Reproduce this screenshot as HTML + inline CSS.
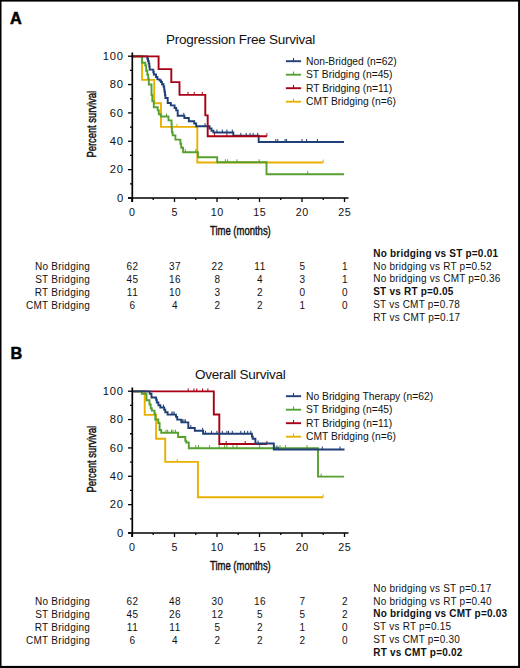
<!DOCTYPE html>
<html><head><meta charset="utf-8"><style>
html,body{margin:0;padding:0;background:#fff;}
svg{display:block;}
text{font-family:"Liberation Sans", sans-serif;fill:#111;}
.pl{font-size:16.3px;font-weight:700;fill:#000;stroke:#000;stroke-width:0.5px;}
.ti{font-size:13.5px;letter-spacing:-0.25px;}
.ylab{font-size:11.2px;letter-spacing:0.9px;}
.xlab{font-size:10.7px;letter-spacing:0.45px;}
.tnum{font-size:10px;letter-spacing:0.6px;}
.cond{font-size:13px;stroke:#111;stroke-width:0.45px;}
.lg{font-size:10.3px;}
.tb{font-size:10px;letter-spacing:0.27px;}
.st{font-size:10px;letter-spacing:0.22px;}
.stb{font-size:10px;font-weight:700;letter-spacing:0.22px;}
</style></head>
<body><svg width="520" height="668" viewBox="0 0 520 668">
<rect x="0" y="0" width="520" height="668" fill="#fff"/>
<path d="M132.00,56.40 L142.10,56.40 L142.10,79.90 L154.20,79.90 L154.20,103.30 L161.00,103.30 L161.00,126.90 L197.30,126.90 L197.30,162.50 L323.20,162.50" fill="none" stroke="#e9b000" stroke-width="1.9" stroke-linejoin="miter" stroke-linecap="butt"/>
<line x1="176.90" y1="123.90" x2="176.90" y2="126.90" stroke="#e9b000" stroke-width="1.0"/>
<line x1="323.20" y1="159.50" x2="323.20" y2="162.50" stroke="#e9b000" stroke-width="1.0"/>
<path d="M132.00,56.40 L142.10,56.40 L142.10,62.70 L145.30,62.70 L145.30,65.50 L146.20,65.50 L146.20,70.70 L147.30,70.70 L147.30,74.80 L148.20,74.80 L148.20,78.80 L148.80,78.80 L148.80,84.50 L151.50,84.50 L151.50,95.00 L152.30,95.00 L152.30,101.20 L153.80,101.20 L153.80,107.30 L157.70,107.30 L157.70,110.40 L158.80,110.40 L158.80,114.20 L160.80,114.20 L160.80,116.50 L168.50,116.50 L168.50,120.40 L171.50,120.40 L171.50,124.00 L171.70,124.00 L171.70,128.00 L171.90,128.00 L171.90,132.30 L172.70,132.30 L172.70,135.40 L175.40,135.40 L175.40,139.60 L180.40,139.60 L180.40,143.80 L181.20,143.80 L181.20,147.70 L183.10,147.70 L183.10,152.30 L197.90,152.30 L197.90,157.30 L217.20,157.30 L217.20,162.30 L266.50,162.30 L266.50,174.30 L344.00,174.30" fill="none" stroke="#55a030" stroke-width="1.9" stroke-linejoin="miter" stroke-linecap="butt"/>
<line x1="166.50" y1="113.50" x2="166.50" y2="116.50" stroke="#55a030" stroke-width="1.0"/>
<line x1="185.40" y1="149.30" x2="185.40" y2="152.30" stroke="#55a030" stroke-width="1.0"/>
<line x1="195.80" y1="149.30" x2="195.80" y2="152.30" stroke="#55a030" stroke-width="1.0"/>
<line x1="225.40" y1="159.30" x2="225.40" y2="162.30" stroke="#55a030" stroke-width="1.0"/>
<line x1="227.70" y1="159.30" x2="227.70" y2="162.30" stroke="#55a030" stroke-width="1.0"/>
<line x1="236.90" y1="159.30" x2="236.90" y2="162.30" stroke="#55a030" stroke-width="1.0"/>
<line x1="259.20" y1="159.30" x2="259.20" y2="162.30" stroke="#55a030" stroke-width="1.0"/>
<line x1="307.70" y1="171.30" x2="307.70" y2="174.30" stroke="#55a030" stroke-width="1.0"/>
<path d="M132.00,56.40 L147.30,56.40 L147.30,58.50 L148.00,58.50 L148.00,61.00 L148.70,61.00 L148.70,63.50 L149.30,63.50 L149.30,66.50 L149.70,66.50 L149.70,69.60 L153.30,69.60 L153.30,72.00 L153.80,72.00 L153.80,74.50 L156.00,74.50 L156.00,77.00 L157.40,77.00 L157.40,79.40 L159.70,79.40 L159.70,80.50 L161.00,80.50 L161.00,82.00 L162.00,82.00 L162.00,84.30 L163.50,84.30 L163.50,86.60 L164.20,86.60 L164.20,89.60 L164.60,89.60 L164.60,92.00 L165.00,92.00 L165.00,95.00 L165.40,95.00 L165.40,98.00 L167.70,98.00 L167.70,103.00 L170.80,103.00 L170.80,105.40 L174.60,105.40 L174.60,108.00 L176.20,108.00 L176.20,110.40 L177.70,110.40 L177.70,115.80 L184.40,115.80 L184.40,118.00 L188.80,118.00 L188.80,121.20 L194.20,121.20 L194.20,123.50 L196.20,123.50 L196.20,126.20 L209.50,126.20 L209.50,128.50 L211.50,128.50 L211.50,130.80 L213.50,130.80 L213.50,132.50 L233.30,132.50 L233.30,135.80 L258.70,135.80 L258.70,142.00 L344.00,142.00" fill="none" stroke="#1f3f76" stroke-width="1.9" stroke-linejoin="miter" stroke-linecap="butt"/>
<line x1="183.80" y1="112.80" x2="183.80" y2="115.80" stroke="#1f3f76" stroke-width="1.0"/>
<line x1="205.00" y1="123.20" x2="205.00" y2="126.20" stroke="#1f3f76" stroke-width="1.0"/>
<line x1="216.90" y1="129.50" x2="216.90" y2="132.50" stroke="#1f3f76" stroke-width="1.0"/>
<line x1="222.30" y1="129.50" x2="222.30" y2="132.50" stroke="#1f3f76" stroke-width="1.0"/>
<line x1="226.90" y1="129.50" x2="226.90" y2="132.50" stroke="#1f3f76" stroke-width="1.0"/>
<line x1="232.30" y1="129.50" x2="232.30" y2="132.50" stroke="#1f3f76" stroke-width="1.0"/>
<line x1="240.80" y1="132.80" x2="240.80" y2="135.80" stroke="#1f3f76" stroke-width="1.0"/>
<line x1="246.20" y1="132.80" x2="246.20" y2="135.80" stroke="#1f3f76" stroke-width="1.0"/>
<line x1="250.00" y1="132.80" x2="250.00" y2="135.80" stroke="#1f3f76" stroke-width="1.0"/>
<line x1="253.10" y1="132.80" x2="253.10" y2="135.80" stroke="#1f3f76" stroke-width="1.0"/>
<line x1="257.70" y1="132.80" x2="257.70" y2="135.80" stroke="#1f3f76" stroke-width="1.0"/>
<line x1="275.80" y1="139.00" x2="275.80" y2="142.00" stroke="#1f3f76" stroke-width="1.0"/>
<line x1="277.80" y1="139.00" x2="277.80" y2="142.00" stroke="#1f3f76" stroke-width="1.0"/>
<line x1="285.10" y1="139.00" x2="285.10" y2="142.00" stroke="#1f3f76" stroke-width="1.0"/>
<line x1="286.60" y1="139.00" x2="286.60" y2="142.00" stroke="#1f3f76" stroke-width="1.0"/>
<line x1="302.00" y1="139.00" x2="302.00" y2="142.00" stroke="#1f3f76" stroke-width="1.0"/>
<line x1="306.60" y1="139.00" x2="306.60" y2="142.00" stroke="#1f3f76" stroke-width="1.0"/>
<line x1="317.40" y1="139.00" x2="317.40" y2="142.00" stroke="#1f3f76" stroke-width="1.0"/>
<path d="M132.00,56.40 L158.60,56.40 L158.60,69.10 L171.30,69.10 L171.30,82.10 L179.50,82.10 L179.50,94.90 L205.30,94.90 L205.30,115.40 L207.70,115.40 L207.70,136.20 L266.90,136.20" fill="none" stroke="#a80016" stroke-width="1.9" stroke-linejoin="miter" stroke-linecap="butt"/>
<line x1="188.00" y1="91.90" x2="188.00" y2="94.90" stroke="#a80016" stroke-width="1.0"/>
<line x1="194.20" y1="91.90" x2="194.20" y2="94.90" stroke="#a80016" stroke-width="1.0"/>
<line x1="202.30" y1="91.90" x2="202.30" y2="94.90" stroke="#a80016" stroke-width="1.0"/>
<line x1="214.60" y1="133.20" x2="214.60" y2="136.20" stroke="#a80016" stroke-width="1.0"/>
<line x1="226.90" y1="133.20" x2="226.90" y2="136.20" stroke="#a80016" stroke-width="1.0"/>
<line x1="266.90" y1="133.20" x2="266.90" y2="136.20" stroke="#a80016" stroke-width="1.0"/>
<path d="M132.00,391.40 L144.70,391.40 L144.70,414.90 L156.10,414.90 L156.10,438.70 L165.20,438.70 L165.20,461.90 L197.90,461.90 L197.90,497.30 L323.20,497.30" fill="none" stroke="#e9b000" stroke-width="1.9" stroke-linejoin="miter" stroke-linecap="butt"/>
<line x1="177.20" y1="458.90" x2="177.20" y2="461.90" stroke="#e9b000" stroke-width="1.0"/>
<line x1="323.20" y1="494.30" x2="323.20" y2="497.30" stroke="#e9b000" stroke-width="1.0"/>
<path d="M132.00,391.40 L213.80,391.40 L213.80,414.50 L219.30,414.50 L219.30,444.00 L266.90,444.00" fill="none" stroke="#a80016" stroke-width="1.9" stroke-linejoin="miter" stroke-linecap="butt"/>
<line x1="188.20" y1="388.40" x2="188.20" y2="391.40" stroke="#a80016" stroke-width="1.0"/>
<line x1="193.90" y1="388.40" x2="193.90" y2="391.40" stroke="#a80016" stroke-width="1.0"/>
<line x1="196.80" y1="388.40" x2="196.80" y2="391.40" stroke="#a80016" stroke-width="1.0"/>
<line x1="202.60" y1="388.40" x2="202.60" y2="391.40" stroke="#a80016" stroke-width="1.0"/>
<line x1="207.90" y1="388.40" x2="207.90" y2="391.40" stroke="#a80016" stroke-width="1.0"/>
<line x1="226.20" y1="441.00" x2="226.20" y2="444.00" stroke="#a80016" stroke-width="1.0"/>
<line x1="245.20" y1="441.00" x2="245.20" y2="444.00" stroke="#a80016" stroke-width="1.0"/>
<line x1="266.90" y1="441.00" x2="266.90" y2="444.00" stroke="#a80016" stroke-width="1.0"/>
<path d="M132.00,391.40 L141.80,391.40 L141.80,393.70 L146.50,393.70 L146.50,400.20 L149.50,400.20 L149.50,404.50 L150.70,404.50 L150.70,408.30 L151.80,408.30 L151.80,410.60 L154.50,410.60 L154.50,413.70 L155.30,413.70 L155.30,419.50 L158.30,419.50 L158.30,423.00 L159.60,423.00 L159.60,430.00 L161.20,430.00 L161.20,432.70 L178.10,432.70 L178.10,437.00 L185.30,437.00 L185.30,440.80 L186.20,440.80 L186.20,442.50 L188.80,442.50 L188.80,448.20 L318.00,448.20 L318.00,476.60 L344.00,476.60" fill="none" stroke="#55a030" stroke-width="1.9" stroke-linejoin="miter" stroke-linecap="butt"/>
<line x1="166.00" y1="429.70" x2="166.00" y2="432.70" stroke="#55a030" stroke-width="1.0"/>
<line x1="167.70" y1="429.70" x2="167.70" y2="432.70" stroke="#55a030" stroke-width="1.0"/>
<line x1="171.50" y1="429.70" x2="171.50" y2="432.70" stroke="#55a030" stroke-width="1.0"/>
<line x1="173.00" y1="429.70" x2="173.00" y2="432.70" stroke="#55a030" stroke-width="1.0"/>
<line x1="175.40" y1="429.70" x2="175.40" y2="432.70" stroke="#55a030" stroke-width="1.0"/>
<line x1="195.80" y1="445.20" x2="195.80" y2="448.20" stroke="#55a030" stroke-width="1.0"/>
<line x1="198.50" y1="445.20" x2="198.50" y2="448.20" stroke="#55a030" stroke-width="1.0"/>
<line x1="209.60" y1="445.20" x2="209.60" y2="448.20" stroke="#55a030" stroke-width="1.0"/>
<line x1="219.20" y1="445.20" x2="219.20" y2="448.20" stroke="#55a030" stroke-width="1.0"/>
<line x1="224.60" y1="445.20" x2="224.60" y2="448.20" stroke="#55a030" stroke-width="1.0"/>
<line x1="226.90" y1="445.20" x2="226.90" y2="448.20" stroke="#55a030" stroke-width="1.0"/>
<line x1="233.00" y1="445.20" x2="233.00" y2="448.20" stroke="#55a030" stroke-width="1.0"/>
<line x1="236.90" y1="445.20" x2="236.90" y2="448.20" stroke="#55a030" stroke-width="1.0"/>
<line x1="259.60" y1="445.20" x2="259.60" y2="448.20" stroke="#55a030" stroke-width="1.0"/>
<line x1="274.60" y1="445.20" x2="274.60" y2="448.20" stroke="#55a030" stroke-width="1.0"/>
<line x1="277.00" y1="445.20" x2="277.00" y2="448.20" stroke="#55a030" stroke-width="1.0"/>
<line x1="280.00" y1="445.20" x2="280.00" y2="448.20" stroke="#55a030" stroke-width="1.0"/>
<line x1="285.40" y1="445.20" x2="285.40" y2="448.20" stroke="#55a030" stroke-width="1.0"/>
<line x1="307.00" y1="445.20" x2="307.00" y2="448.20" stroke="#55a030" stroke-width="1.0"/>
<line x1="321.20" y1="473.60" x2="321.20" y2="476.60" stroke="#55a030" stroke-width="1.0"/>
<path d="M132.00,391.40 L149.80,391.40 L149.80,393.70 L151.50,393.70 L151.50,397.50 L156.10,397.50 L156.10,399.80 L156.80,399.80 L156.80,402.50 L158.40,402.50 L158.40,405.20 L160.30,405.20 L160.30,407.50 L164.20,407.50 L164.20,409.80 L165.30,409.80 L165.30,412.20 L167.60,412.20 L167.60,414.60 L176.00,414.60 L176.00,416.90 L177.20,416.90 L177.20,419.60 L181.30,419.60 L181.30,422.40 L188.30,422.40 L188.30,428.00 L194.80,428.00 L194.80,430.80 L203.10,430.80 L203.10,433.80 L251.90,433.80 L251.90,436.50 L252.70,436.50 L252.70,438.70 L255.40,438.70 L255.40,443.50 L273.80,443.50 L273.80,449.50 L344.50,449.50" fill="none" stroke="#1f3f76" stroke-width="1.9" stroke-linejoin="miter" stroke-linecap="butt"/>
<line x1="163.40" y1="404.50" x2="163.40" y2="407.50" stroke="#1f3f76" stroke-width="1.0"/>
<line x1="171.80" y1="411.60" x2="171.80" y2="414.60" stroke="#1f3f76" stroke-width="1.0"/>
<line x1="173.00" y1="411.60" x2="173.00" y2="414.60" stroke="#1f3f76" stroke-width="1.0"/>
<line x1="174.20" y1="411.60" x2="174.20" y2="414.60" stroke="#1f3f76" stroke-width="1.0"/>
<line x1="182.70" y1="419.40" x2="182.70" y2="422.40" stroke="#1f3f76" stroke-width="1.0"/>
<line x1="184.00" y1="419.40" x2="184.00" y2="422.40" stroke="#1f3f76" stroke-width="1.0"/>
<line x1="185.40" y1="419.40" x2="185.40" y2="422.40" stroke="#1f3f76" stroke-width="1.0"/>
<line x1="190.80" y1="425.00" x2="190.80" y2="428.00" stroke="#1f3f76" stroke-width="1.0"/>
<line x1="202.70" y1="427.80" x2="202.70" y2="430.80" stroke="#1f3f76" stroke-width="1.0"/>
<line x1="205.40" y1="430.80" x2="205.40" y2="433.80" stroke="#1f3f76" stroke-width="1.0"/>
<line x1="211.50" y1="430.80" x2="211.50" y2="433.80" stroke="#1f3f76" stroke-width="1.0"/>
<line x1="216.90" y1="430.80" x2="216.90" y2="433.80" stroke="#1f3f76" stroke-width="1.0"/>
<line x1="222.30" y1="430.80" x2="222.30" y2="433.80" stroke="#1f3f76" stroke-width="1.0"/>
<line x1="226.90" y1="430.80" x2="226.90" y2="433.80" stroke="#1f3f76" stroke-width="1.0"/>
<line x1="228.50" y1="430.80" x2="228.50" y2="433.80" stroke="#1f3f76" stroke-width="1.0"/>
<line x1="232.30" y1="430.80" x2="232.30" y2="433.80" stroke="#1f3f76" stroke-width="1.0"/>
<line x1="240.80" y1="430.80" x2="240.80" y2="433.80" stroke="#1f3f76" stroke-width="1.0"/>
<line x1="244.60" y1="430.80" x2="244.60" y2="433.80" stroke="#1f3f76" stroke-width="1.0"/>
<line x1="247.70" y1="430.80" x2="247.70" y2="433.80" stroke="#1f3f76" stroke-width="1.0"/>
<line x1="250.80" y1="430.80" x2="250.80" y2="433.80" stroke="#1f3f76" stroke-width="1.0"/>
<line x1="258.10" y1="440.50" x2="258.10" y2="443.50" stroke="#1f3f76" stroke-width="1.0"/>
<line x1="276.20" y1="446.50" x2="276.20" y2="449.50" stroke="#1f3f76" stroke-width="1.0"/>
<line x1="278.10" y1="446.50" x2="278.10" y2="449.50" stroke="#1f3f76" stroke-width="1.0"/>
<line x1="322.30" y1="446.50" x2="322.30" y2="449.50" stroke="#1f3f76" stroke-width="1.0"/>
<line x1="340.00" y1="446.50" x2="340.00" y2="449.50" stroke="#1f3f76" stroke-width="1.0"/>
<text x="10" y="24" class="pl">A</text>
<text x="10.5" y="359.0" class="pl">B</text>
<text x="240.6" y="44.1" text-anchor="middle" class="ti">Progression Free Survival</text>
<text x="240.2" y="379.1" text-anchor="middle" class="ti">Overall Survival</text>
<line x1="132.3" y1="52.5" x2="132.3" y2="202" stroke="#000" stroke-width="1.7"/>
<line x1="128" y1="198.0" x2="348.5" y2="198.0" stroke="#000" stroke-width="1.7"/>
<line x1="128" y1="198.00" x2="132.0" y2="198.00" stroke="#000" stroke-width="1.3"/>
<line x1="130" y1="183.82" x2="132.0" y2="183.82" stroke="#000" stroke-width="1.3"/>
<line x1="128" y1="169.64" x2="132.0" y2="169.64" stroke="#000" stroke-width="1.3"/>
<line x1="130" y1="155.46" x2="132.0" y2="155.46" stroke="#000" stroke-width="1.3"/>
<line x1="128" y1="141.28" x2="132.0" y2="141.28" stroke="#000" stroke-width="1.3"/>
<line x1="130" y1="127.10" x2="132.0" y2="127.10" stroke="#000" stroke-width="1.3"/>
<line x1="128" y1="112.92" x2="132.0" y2="112.92" stroke="#000" stroke-width="1.3"/>
<line x1="130" y1="98.74" x2="132.0" y2="98.74" stroke="#000" stroke-width="1.3"/>
<line x1="128" y1="84.56" x2="132.0" y2="84.56" stroke="#000" stroke-width="1.3"/>
<line x1="130" y1="70.38" x2="132.0" y2="70.38" stroke="#000" stroke-width="1.3"/>
<line x1="128" y1="56.20" x2="132.0" y2="56.20" stroke="#000" stroke-width="1.3"/>
<line x1="132.00" y1="198.0" x2="132.00" y2="202" stroke="#000" stroke-width="1.3"/>
<line x1="153.25" y1="198.0" x2="153.25" y2="200" stroke="#000" stroke-width="1.3"/>
<line x1="174.50" y1="198.0" x2="174.50" y2="202" stroke="#000" stroke-width="1.3"/>
<line x1="195.75" y1="198.0" x2="195.75" y2="200" stroke="#000" stroke-width="1.3"/>
<line x1="217.00" y1="198.0" x2="217.00" y2="202" stroke="#000" stroke-width="1.3"/>
<line x1="238.25" y1="198.0" x2="238.25" y2="200" stroke="#000" stroke-width="1.3"/>
<line x1="259.50" y1="198.0" x2="259.50" y2="202" stroke="#000" stroke-width="1.3"/>
<line x1="280.75" y1="198.0" x2="280.75" y2="200" stroke="#000" stroke-width="1.3"/>
<line x1="302.00" y1="198.0" x2="302.00" y2="202" stroke="#000" stroke-width="1.3"/>
<line x1="323.25" y1="198.0" x2="323.25" y2="200" stroke="#000" stroke-width="1.3"/>
<line x1="344.50" y1="198.0" x2="344.50" y2="202" stroke="#000" stroke-width="1.3"/>
<text x="124.0" y="201.60" text-anchor="end" class="ylab">0</text>
<text x="124.0" y="173.24" text-anchor="end" class="ylab">20</text>
<text x="124.0" y="144.88" text-anchor="end" class="ylab">40</text>
<text x="124.0" y="116.52" text-anchor="end" class="ylab">60</text>
<text x="124.0" y="88.16" text-anchor="end" class="ylab">80</text>
<text x="124.0" y="59.80" text-anchor="end" class="ylab">100</text>
<text x="132.25" y="215.80" text-anchor="middle" class="xlab">0</text>
<text x="174.75" y="215.80" text-anchor="middle" class="xlab">5</text>
<text x="217.25" y="215.80" text-anchor="middle" class="xlab">10</text>
<text x="259.75" y="215.80" text-anchor="middle" class="xlab">15</text>
<text x="302.25" y="215.80" text-anchor="middle" class="xlab">20</text>
<text x="344.75" y="215.80" text-anchor="middle" class="xlab">25</text>
<text transform="translate(95.5,157.5) rotate(-90) scale(0.72,1)" class="cond">Percent survival</text>
<text transform="translate(210,235) scale(0.73,1)" class="cond">Time (months)</text>
<line x1="132.3" y1="387.5" x2="132.3" y2="537.0" stroke="#000" stroke-width="1.7"/>
<line x1="128" y1="533.0" x2="348.5" y2="533.0" stroke="#000" stroke-width="1.7"/>
<line x1="128" y1="533.00" x2="132.0" y2="533.00" stroke="#000" stroke-width="1.3"/>
<line x1="130" y1="518.82" x2="132.0" y2="518.82" stroke="#000" stroke-width="1.3"/>
<line x1="128" y1="504.64" x2="132.0" y2="504.64" stroke="#000" stroke-width="1.3"/>
<line x1="130" y1="490.46" x2="132.0" y2="490.46" stroke="#000" stroke-width="1.3"/>
<line x1="128" y1="476.28" x2="132.0" y2="476.28" stroke="#000" stroke-width="1.3"/>
<line x1="130" y1="462.10" x2="132.0" y2="462.10" stroke="#000" stroke-width="1.3"/>
<line x1="128" y1="447.92" x2="132.0" y2="447.92" stroke="#000" stroke-width="1.3"/>
<line x1="130" y1="433.74" x2="132.0" y2="433.74" stroke="#000" stroke-width="1.3"/>
<line x1="128" y1="419.56" x2="132.0" y2="419.56" stroke="#000" stroke-width="1.3"/>
<line x1="130" y1="405.38" x2="132.0" y2="405.38" stroke="#000" stroke-width="1.3"/>
<line x1="128" y1="391.20" x2="132.0" y2="391.20" stroke="#000" stroke-width="1.3"/>
<line x1="132.00" y1="533.0" x2="132.00" y2="537.0" stroke="#000" stroke-width="1.3"/>
<line x1="153.25" y1="533.0" x2="153.25" y2="535.0" stroke="#000" stroke-width="1.3"/>
<line x1="174.50" y1="533.0" x2="174.50" y2="537.0" stroke="#000" stroke-width="1.3"/>
<line x1="195.75" y1="533.0" x2="195.75" y2="535.0" stroke="#000" stroke-width="1.3"/>
<line x1="217.00" y1="533.0" x2="217.00" y2="537.0" stroke="#000" stroke-width="1.3"/>
<line x1="238.25" y1="533.0" x2="238.25" y2="535.0" stroke="#000" stroke-width="1.3"/>
<line x1="259.50" y1="533.0" x2="259.50" y2="537.0" stroke="#000" stroke-width="1.3"/>
<line x1="280.75" y1="533.0" x2="280.75" y2="535.0" stroke="#000" stroke-width="1.3"/>
<line x1="302.00" y1="533.0" x2="302.00" y2="537.0" stroke="#000" stroke-width="1.3"/>
<line x1="323.25" y1="533.0" x2="323.25" y2="535.0" stroke="#000" stroke-width="1.3"/>
<line x1="344.50" y1="533.0" x2="344.50" y2="537.0" stroke="#000" stroke-width="1.3"/>
<text x="124.0" y="536.60" text-anchor="end" class="ylab">0</text>
<text x="124.0" y="508.24" text-anchor="end" class="ylab">20</text>
<text x="124.0" y="479.88" text-anchor="end" class="ylab">40</text>
<text x="124.0" y="451.52" text-anchor="end" class="ylab">60</text>
<text x="124.0" y="423.16" text-anchor="end" class="ylab">80</text>
<text x="124.0" y="394.80" text-anchor="end" class="ylab">100</text>
<text x="132.25" y="550.80" text-anchor="middle" class="xlab">0</text>
<text x="174.75" y="550.80" text-anchor="middle" class="xlab">5</text>
<text x="217.25" y="550.80" text-anchor="middle" class="xlab">10</text>
<text x="259.75" y="550.80" text-anchor="middle" class="xlab">15</text>
<text x="302.25" y="550.80" text-anchor="middle" class="xlab">20</text>
<text x="344.75" y="550.80" text-anchor="middle" class="xlab">25</text>
<text transform="translate(95.5,492.5) rotate(-90) scale(0.72,1)" class="cond">Percent survival</text>
<text transform="translate(210,570.0) scale(0.73,1)" class="cond">Time (months)</text>
<line x1="285.9" y1="61.2" x2="301.1" y2="61.2" stroke="#1f3f76" stroke-width="1.9"/>
<line x1="293.5" y1="58.0" x2="293.5" y2="61.2" stroke="#1f3f76" stroke-width="1.1"/>
<text x="306" y="64.70" class="lg">Non-Bridged (n=62)</text>
<line x1="285.9" y1="74.7" x2="301.1" y2="74.7" stroke="#55a030" stroke-width="1.9"/>
<line x1="293.5" y1="71.5" x2="293.5" y2="74.7" stroke="#55a030" stroke-width="1.1"/>
<text x="306" y="78.20" class="lg">ST Bridging (n=45)</text>
<line x1="285.9" y1="88.2" x2="301.1" y2="88.2" stroke="#a80016" stroke-width="1.9"/>
<line x1="293.5" y1="85.0" x2="293.5" y2="88.2" stroke="#a80016" stroke-width="1.1"/>
<text x="306" y="91.70" class="lg">RT Bridging (n=11)</text>
<line x1="285.9" y1="101.7" x2="301.1" y2="101.7" stroke="#e9b000" stroke-width="1.9"/>
<line x1="293.5" y1="98.5" x2="293.5" y2="101.7" stroke="#e9b000" stroke-width="1.1"/>
<text x="306" y="105.20" class="lg">CMT Bridging (n=6)</text>
<line x1="285.9" y1="396.2" x2="301.1" y2="396.2" stroke="#1f3f76" stroke-width="1.9"/>
<line x1="293.5" y1="393.0" x2="293.5" y2="396.2" stroke="#1f3f76" stroke-width="1.1"/>
<text x="306" y="399.70" class="lg">No Bridging Therapy (n=62)</text>
<line x1="285.9" y1="409.7" x2="301.1" y2="409.7" stroke="#55a030" stroke-width="1.9"/>
<line x1="293.5" y1="406.5" x2="293.5" y2="409.7" stroke="#55a030" stroke-width="1.1"/>
<text x="306" y="413.20" class="lg">ST Bridging (n=45)</text>
<line x1="285.9" y1="423.2" x2="301.1" y2="423.2" stroke="#a80016" stroke-width="1.9"/>
<line x1="293.5" y1="420.0" x2="293.5" y2="423.2" stroke="#a80016" stroke-width="1.1"/>
<text x="306" y="426.70" class="lg">RT Bridging (n=11)</text>
<line x1="285.9" y1="436.7" x2="301.1" y2="436.7" stroke="#e9b000" stroke-width="1.9"/>
<line x1="293.5" y1="433.5" x2="293.5" y2="436.7" stroke="#e9b000" stroke-width="1.1"/>
<text x="306" y="440.20" class="lg">CMT Bridging (n=6)</text>
<text x="90.2" y="270.0" text-anchor="end" class="tb">No Bridging</text>
<text x="132.60" y="270.0" text-anchor="middle" class="tnum">62</text>
<text x="175.10" y="270.0" text-anchor="middle" class="tnum">37</text>
<text x="217.60" y="270.0" text-anchor="middle" class="tnum">22</text>
<text x="260.10" y="270.0" text-anchor="middle" class="tnum">11</text>
<text x="302.60" y="270.0" text-anchor="middle" class="tnum">5</text>
<text x="345.10" y="270.0" text-anchor="middle" class="tnum">1</text>
<text x="90.2" y="282.8" text-anchor="end" class="tb">ST Bridging</text>
<text x="132.60" y="282.8" text-anchor="middle" class="tnum">45</text>
<text x="175.10" y="282.8" text-anchor="middle" class="tnum">16</text>
<text x="217.60" y="282.8" text-anchor="middle" class="tnum">8</text>
<text x="260.10" y="282.8" text-anchor="middle" class="tnum">4</text>
<text x="302.60" y="282.8" text-anchor="middle" class="tnum">3</text>
<text x="345.10" y="282.8" text-anchor="middle" class="tnum">1</text>
<text x="90.2" y="295.7" text-anchor="end" class="tb">RT Bridging</text>
<text x="132.60" y="295.7" text-anchor="middle" class="tnum">11</text>
<text x="175.10" y="295.7" text-anchor="middle" class="tnum">10</text>
<text x="217.60" y="295.7" text-anchor="middle" class="tnum">3</text>
<text x="260.10" y="295.7" text-anchor="middle" class="tnum">2</text>
<text x="302.60" y="295.7" text-anchor="middle" class="tnum">0</text>
<text x="345.10" y="295.7" text-anchor="middle" class="tnum">0</text>
<text x="90.2" y="308.5" text-anchor="end" class="tb">CMT Bridging</text>
<text x="132.60" y="308.5" text-anchor="middle" class="tnum">6</text>
<text x="175.10" y="308.5" text-anchor="middle" class="tnum">4</text>
<text x="217.60" y="308.5" text-anchor="middle" class="tnum">2</text>
<text x="260.10" y="308.5" text-anchor="middle" class="tnum">2</text>
<text x="302.60" y="308.5" text-anchor="middle" class="tnum">1</text>
<text x="345.10" y="308.5" text-anchor="middle" class="tnum">0</text>
<text x="90.2" y="605.0" text-anchor="end" class="tb">No Bridging</text>
<text x="132.60" y="605.0" text-anchor="middle" class="tnum">62</text>
<text x="175.10" y="605.0" text-anchor="middle" class="tnum">48</text>
<text x="217.60" y="605.0" text-anchor="middle" class="tnum">30</text>
<text x="260.10" y="605.0" text-anchor="middle" class="tnum">16</text>
<text x="302.60" y="605.0" text-anchor="middle" class="tnum">7</text>
<text x="345.10" y="605.0" text-anchor="middle" class="tnum">2</text>
<text x="90.2" y="617.8" text-anchor="end" class="tb">ST Bridging</text>
<text x="132.60" y="617.8" text-anchor="middle" class="tnum">45</text>
<text x="175.10" y="617.8" text-anchor="middle" class="tnum">26</text>
<text x="217.60" y="617.8" text-anchor="middle" class="tnum">12</text>
<text x="260.10" y="617.8" text-anchor="middle" class="tnum">5</text>
<text x="302.60" y="617.8" text-anchor="middle" class="tnum">5</text>
<text x="345.10" y="617.8" text-anchor="middle" class="tnum">2</text>
<text x="90.2" y="630.7" text-anchor="end" class="tb">RT Bridging</text>
<text x="132.60" y="630.7" text-anchor="middle" class="tnum">11</text>
<text x="175.10" y="630.7" text-anchor="middle" class="tnum">11</text>
<text x="217.60" y="630.7" text-anchor="middle" class="tnum">5</text>
<text x="260.10" y="630.7" text-anchor="middle" class="tnum">2</text>
<text x="302.60" y="630.7" text-anchor="middle" class="tnum">1</text>
<text x="345.10" y="630.7" text-anchor="middle" class="tnum">0</text>
<text x="90.2" y="643.5" text-anchor="end" class="tb">CMT Bridging</text>
<text x="132.60" y="643.5" text-anchor="middle" class="tnum">6</text>
<text x="175.10" y="643.5" text-anchor="middle" class="tnum">4</text>
<text x="217.60" y="643.5" text-anchor="middle" class="tnum">2</text>
<text x="260.10" y="643.5" text-anchor="middle" class="tnum">2</text>
<text x="302.60" y="643.5" text-anchor="middle" class="tnum">2</text>
<text x="345.10" y="643.5" text-anchor="middle" class="tnum">0</text>
<text x="373.2" y="256.70" class="stb">No bridging vs ST p=0.01</text>
<text x="373.2" y="269.55" class="st">No bridging vs RT p=0.52</text>
<text x="373.2" y="282.40" class="st">No bridging vs CMT p=0.36</text>
<text x="373.2" y="295.25" class="stb">ST vs RT p=0.05</text>
<text x="373.2" y="308.10" class="st">ST vs CMT p=0.78</text>
<text x="373.2" y="320.95" class="st">RT vs CMT p=0.17</text>
<text x="373.2" y="591.70" class="st">No bridging vs ST p=0.17</text>
<text x="373.2" y="604.55" class="st">No bridging vs RT p=0.40</text>
<text x="373.2" y="617.40" class="stb">No bridging vs CMT p=0.03</text>
<text x="373.2" y="630.25" class="st">ST vs RT p=0.15</text>
<text x="373.2" y="643.10" class="st">ST vs CMT p=0.30</text>
<text x="373.2" y="655.95" class="stb">RT vs CMT p=0.02</text>
<rect x="0" y="0" width="520" height="1.6" fill="#000"/>
<rect x="0" y="0" width="1.5" height="668" fill="#000"/>
<rect x="518.1" y="0" width="1.9" height="668" fill="#000"/>
<rect x="0" y="665.9" width="520" height="2.1" fill="#000"/>
</svg></body></html>
